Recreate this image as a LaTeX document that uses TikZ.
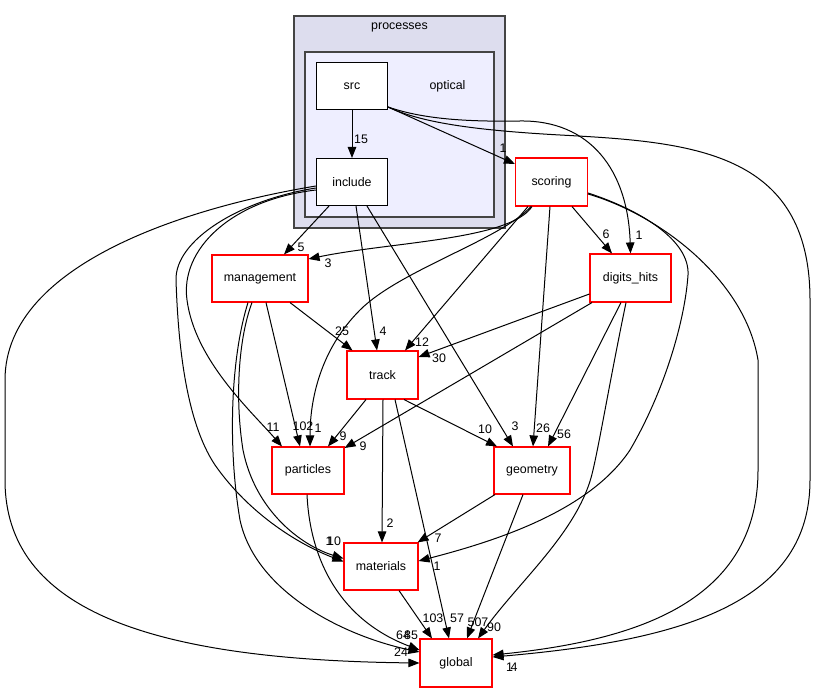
\documentclass[tikz,border=0pt]{standalone}
\usepackage{fontspec}
\setmainfont{Liberation Sans}
\usetikzlibrary{arrows.meta,calc}
\definecolor{clusterA}{HTML}{DDDDEE}
\definecolor{clusterB}{HTML}{EEEEFF}
\definecolor{clusterLine}{HTML}{444444}
\newcommand{\dfont}{\fontsize{12.4}{14}\selectfont}
\begin{document}
\begin{tikzpicture}[x=1pt,y=-1pt,
  box/.style={draw=red, fill=white, line width=1.1pt, minimum height=47pt, inner sep=0pt, font=\dfont},
  dirbox/.style={draw=black, fill=white, line width=1.1pt, minimum width=71pt, minimum height=47pt, inner sep=0pt, font=\dfont},
  edge/.style={draw=black, line width=1pt, -{Triangle[length=11pt,width=8.5pt]}},
  num/.style={font=\dfont, inner sep=0pt},
  cluster/.style={draw=clusterLine, line width=1.4pt}
]
\fill[white] (0,0) rectangle (816,692);
\useasboundingbox (0,0) rectangle (816,692);

% clusters
\path[cluster, fill=clusterA] (294,16) rectangle (505,228);
\node[num] (lprocesses) at (399.5,27) {processes};
\path[cluster, fill=clusterB] (305,52) rectangle (494,217);
\node[num] (loptical) at (447.5,86) {optical};

% nodes
\node[dirbox] (src) at (352,86) {src};
\node[dirbox] (include) at (352,182) {include};
\node[box, minimum width=72pt, minimum height=48pt] (scoring) at (551.5,182) {scoring};
\node[box, minimum width=81pt, minimum height=48pt] (digits) at (630.5,278) {digits\_hits};
\node[box, minimum width=96pt] (management) at (260,278.5) {management};
\node[box, minimum width=71pt, minimum height=48pt] (track) at (382.5,375) {track};
\node[box, minimum width=72pt] (particles) at (308,470.5) {particles};
\node[box, minimum width=76pt] (geometry) at (532,470.5) {geometry};
\node[box, minimum width=74pt] (materials) at (381,566.5) {materials};
\node[box, minimum width=72pt, minimum height=48pt] (global) at (456,663) {global};

% edges from src
\draw[edge] (src) -- (include);
\draw[edge] ($(src.east)+(0,21)$) -- ($(scoring.west)+(0,-18)$);
\draw[edge] ($(src.east)+(0,21)$) .. controls (420,118) and (460,122) .. (520,121)
  .. controls (590,120) and (628,170) .. (digits.north);
\draw[edge] ($(src.east)+(0,21)$) .. controls (420,122) and (470,130) .. (560,135)
  .. controls (690,142) and (810,150) .. (810,300) -- (810,480)
  .. controls (810,600) and (690,640) .. ($(global.east)+(0,-6)$);

% edges from include
\draw[edge] ($(include.south)+(-23,0)$) -- ($(management.north)+(24,0)$);
\draw[edge] ($(include.south)+(4,0)$) -- ($(track.north)+(-5.5,0)$);
\draw[edge] ($(include.south)+(15,0)$) -- ($(geometry.north)+(-19,0)$);
\draw[edge] ($(include.west)+(0,8)$) .. controls (230,200) and (180,250) .. (187,300)
  .. controls (195,360) and (250,410) .. ($(particles.north)+(-26,0)$);
\draw[edge] ($(include.west)+(0,6)$) .. controls (240,200) and (175,240) .. (176,280)
  .. controls (178,340) and (185,420) .. (215,465)
  .. controls (250,515) and (300,545) .. ($(materials.west)+(0,-5)$);
\draw[edge] ($(include.west)+(0,4)$) .. controls (200,205) and (5,260) .. (5,380) -- (5,480)
  .. controls (5,610) and (150,660) .. (global.west);

% edges from scoring
\draw[edge] ($(scoring.south)+(-19.5,0)$) .. controls (510,240) and (390,242) .. ($(management.east)+(0,-19.5)$);
\draw[edge] ($(scoring.south)+(-20.5,0)$) .. controls (500,240) and (400,270) .. (360,310)
  .. controls (320,350) and (310,400) .. ($(particles.north)+(2,0)$);
\draw[edge] ($(scoring.south)+(-23.5,0)$) -- ($(track.north)+(22.5,0)$);
\draw[edge] ($(scoring.south)+(-1.5,0)$) -- ($(geometry.north)+(1,0)$);
\draw[edge] ($(scoring.south)+(20.5,0)$) -- ($(digits.north)+(-18.5,0)$);
\draw[edge] ($(scoring.east)+(0,11)$) .. controls (640,210) and (690,240) .. (688,275)
  .. controls (685,320) and (665,390) .. (630,450)
  .. controls (590,510) and (500,540) .. ($(materials.east)+(0,-5.5)$);
\draw[edge] ($(scoring.east)+(0,12)$) .. controls (660,215) and (745,280) .. (758,360) -- (758,470)
  .. controls (758,600) and (640,640) .. ($(global.east)+(0,-8)$);

% edges from digits_hits
\draw[edge] ($(digits.west)+(0,16)$) -- ($(track.east)+(0,-18)$);
\draw[edge] ($(digits.south)+(-38.5,0)$) -- ($(particles.east)+(0,-22.5)$);
\draw[edge] ($(digits.south)+(-9.5,0)$) -- ($(geometry.north)+(16,0)$);
\draw[edge] ($(digits.south)+(-4.5,0)$) .. controls (610,380) and (600,440) .. (593,470)
  .. controls (580,530) and (520,580) .. ($(global.north)+(22,0)$);

% edges from management
\draw[edge] ($(management.south)+(30,0)$) -- ($(track.north)+(-30,0)$);
\draw[edge] ($(management.south)+(6,0)$) -- ($(particles.north)+(-8,0)$);
\draw[edge] ($(management.south)+(-8,0)$) .. controls (238,340) and (235,400) .. (243,450)
  .. controls (255,510) and (300,545) .. ($(materials.west)+(0,-8)$);
\draw[edge] ($(management.south)+(-12,0)$) .. controls (230,360) and (228,450) .. (240,520)
  .. controls (255,590) and (340,635) .. ($(global.west)+(0,-11)$);

% edges from track
\draw[edge] ($(track.south)+(-16.5,0)$) -- ($(particles.north)+(20,0)$);
\draw[edge] ($(track.south)+(21.5,0)$) -- ($(geometry.north)+(-35,0)$);
\draw[edge] ($(track.south)+(0.5,0)$) -- ($(materials.north)+(1,0)$);
\draw[edge] ($(track.south)+(12.5,0)$) -- ($(global.north)+(-7,0)$);

% other edges
\draw[edge] ($(particles.south)+(-1,0)$) .. controls (310,560) and (340,620) .. ($(global.west)+(0,-13)$);
\draw[edge] ($(geometry.south)+(-37,0)$) -- ($(materials.north east)+(-1,0)$);
\draw[edge] ($(geometry.south)+(-9,0)$) -- ($(global.north)+(11,0)$);
\draw[edge] ($(materials.south)+(18,0)$) -- ($(global.north)+(-24,0)$);

% edge labels
\node[num] (n01) at (361,139) {15};
\node[num] (n02) at (503,148) {1};
\node[num] (n03) at (639,235) {1};
\node[num] (n04) at (509.5,667) {1};
\node[num] (n05) at (514,667) {4};
\node[num] (n06) at (328,263) {3};
\node[num] (n07) at (318,428) {1};
\node[num] (n08) at (422,342) {12};
\node[num] (n09) at (543,428) {26};
\node[num] (n10) at (606,234) {6};
\node[num] (n11) at (439,358) {30};
\node[num] (n12) at (363,446) {9};
\node[num] (n13) at (564,434) {56};
\node[num] (n14) at (494,627) {90};
\node[num] (n15) at (343,436) {9};
\node[num] (n16) at (485,429) {10};
\node[num] (n17) at (390,523) {2};
\node[num] (n18) at (457,618) {57};
\node[num] (n19) at (438,538) {7};
\node[num] (n20) at (478,622) {507};
\node[num] (n21) at (433,618) {103};
\node[num] (n22) at (301,247) {5};
\node[num] (n23) at (383,331) {4};
\node[num] (n24) at (515,426) {3};
\node[num] (n25) at (273,427) {11};
\node[num] (n26) at (329,541) {1};
\node[num] (n27) at (334,541) {10};
\node[num] (n28) at (401,652) {24};
\node[num] (n29) at (342,331) {25};
\node[num] (n30) at (303,426) {102};
\node[num] (n31) at (403,635) {64};
\node[num] (n32) at (411,635) {85};
\node[num] (n33) at (437,566) {1};
\end{tikzpicture}
\end{document}
